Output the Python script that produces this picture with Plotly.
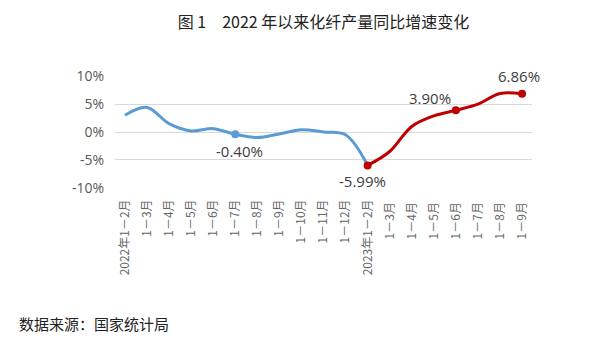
import plotly.graph_objects as go

categories = ["2022年1－2月", "1－3月", "1－4月", "1－5月", "1－6月", "1－7月", "1－8月",
              "1－9月", "1－10月", "1－11月", "1－12月", "2023年1－2月", "1－3月 ", "1－4月 ",
              "1－5月 ", "1－6月 ", "1－7月 ", "1－8月 ", "1－9月 "]
values = [3.0, 4.4, 1.5, 0.2, 0.6, -0.40, -1.0, -0.35, 0.4, 0.0, -0.5,
          -5.99, -3.5, 1.0, 2.9, 3.90, 5.0, 6.9, 6.86]
y_ticks = [-10, -5, 0, 5, 10]
y_ticklabels = ["-10%", "-5%", "0%", "5%", "10%"]

split = 11  # 2023年1-2月 index
blue_idx = list(range(0, split + 1))
red_idx = list(range(split, len(values)))

labeled_blue = [5]
labeled_red = [11, 15, 18]
label_shift = {5: (4, -17), 11: (-5, -16), 15: (-26, 12), 18: (-3, 18)}

BLUE = "#5B9BD5"
RED = "#C00000"

fig = go.Figure()
fig.add_trace(go.Scatter(
    x=[categories[i] for i in blue_idx], y=[values[i] for i in blue_idx],
    mode="lines", line=dict(color=BLUE, width=3, shape="spline", smoothing=1.0),
    hoverinfo="skip", showlegend=False))
fig.add_trace(go.Scatter(
    x=[categories[i] for i in red_idx], y=[values[i] for i in red_idx],
    mode="lines", line=dict(color=RED, width=3, shape="spline", smoothing=1.0),
    hoverinfo="skip", showlegend=False))
for idxs, col in ((labeled_blue, BLUE), (labeled_red, RED)):
    fig.add_trace(go.Scatter(
        x=[categories[i] for i in idxs], y=[values[i] for i in idxs],
        mode="markers", marker=dict(color=col, size=8),
        cliponaxis=False, showlegend=False))

annotations = [dict(text="数据来源：国家统计局", xref="paper", yref="paper",
                    x=-(115 - 17) / 417, y=-(323 - 188) / 112, xanchor="left", yanchor="middle",
                    showarrow=False,
                    font=dict(family="Noto Sans CJK SC", size=15, color="#222222"))]
for i in labeled_blue + labeled_red:
    dx, dy = label_shift[i]
    annotations.append(dict(x=categories[i], y=values[i], xref="x", yref="y",
                            text=f"{values[i]:.2f}%", showarrow=False,
                            xanchor="center", yanchor="middle", xshift=dx, yshift=dy,
                            font=dict(family="Open Sans, Noto Sans", size=15, color="#404040")))

fig.update_layout(
    width=598, height=337,
    margin=dict(l=115, r=66, t=76, b=149),
    paper_bgcolor="white", plot_bgcolor="white",
    title=dict(text="图 1　2022 年以来化纤产量同比增速变化", x=0.5, xref="paper", xanchor="center",
               y=1 - 22 / 337, yref="container", yanchor="middle",
               font=dict(family="Noto Sans CJK SC", size=16, color="#222222")),
    annotations=annotations,
)
fig.update_xaxes(type="category", categoryorder="array", categoryarray=categories,
                 range=[-0.45, 18.45], showgrid=False, showline=False, zeroline=False,
                 tickangle=-90, ticklabelstandoff=8,
                 tickfont=dict(family="Noto Sans CJK SC", size=12, color="#666666"))
fig.update_yaxes(range=[-10.05, 10.05], tickvals=y_ticks, ticktext=y_ticklabels,
                 showgrid=True, gridcolor="#D9D9D9", gridwidth=1,
                 zeroline=True, zerolinecolor="#D9D9D9", zerolinewidth=1,
                 showline=False, ticklabelstandoff=10,
                 tickfont=dict(family="Open Sans, Noto Sans", size=14, color="#595959"))

fig.write_html("out.html")
